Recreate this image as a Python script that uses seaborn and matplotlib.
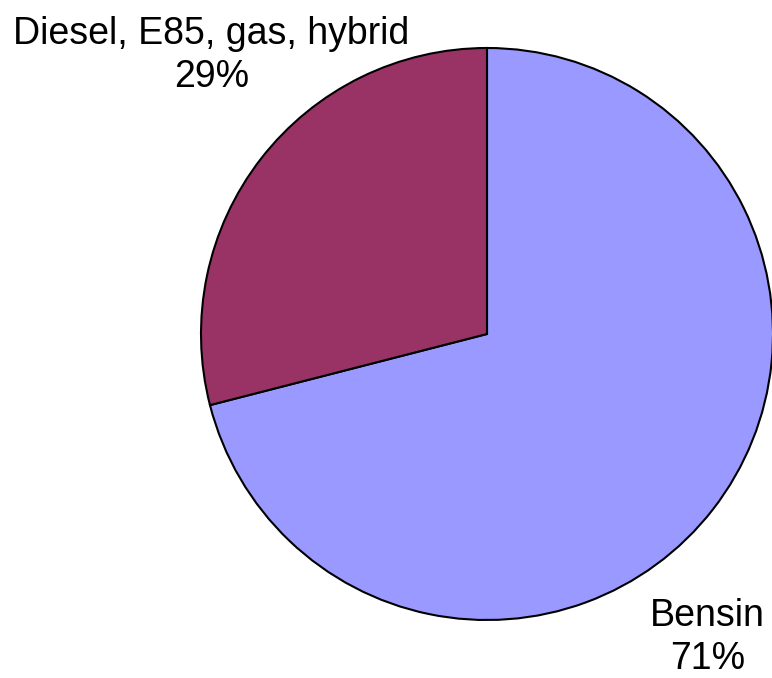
import matplotlib
matplotlib.use("Agg")
import matplotlib.pyplot as plt
import seaborn as sns

# Fuel types share
categories = ["Bensin", "Diesel, E85, gas, hybrid"]
shares = [71, 29]
colors = ["#9999FF", "#993366"]

sns.set_theme(style="white")
plt.rcParams['font.family'] = ['Liberation Sans', 'DejaVu Sans']

fig = plt.figure(figsize=(7.72, 6.78), dpi=100)
# pie centre ~ (487, 334) px, radius ~286 px
ax = fig.add_axes([201 / 772, (678 - 334 - 286) / 678, 572 / 772, 572 / 678])

ax.pie(shares, colors=colors, startangle=90, counterclock=False,
       wedgeprops=dict(edgecolor="black", linewidth=1.5))
ax.set_xlim(-1, 1)
ax.set_ylim(-1, 1)
ax.set_aspect("equal")
ax.axis("off")

# labels outside the pie
label_pos = [(0.77, -1.06), (-0.963, 0.975)]
for cat, val, (x, y) in zip(categories, shares, label_pos):
    ax.text(x, y, f"{cat}\n{val}%", ha="center", va="center",
            fontsize=27, linespacing=1.25, color="black", clip_on=False)

fig.savefig("out.png", dpi=100)
